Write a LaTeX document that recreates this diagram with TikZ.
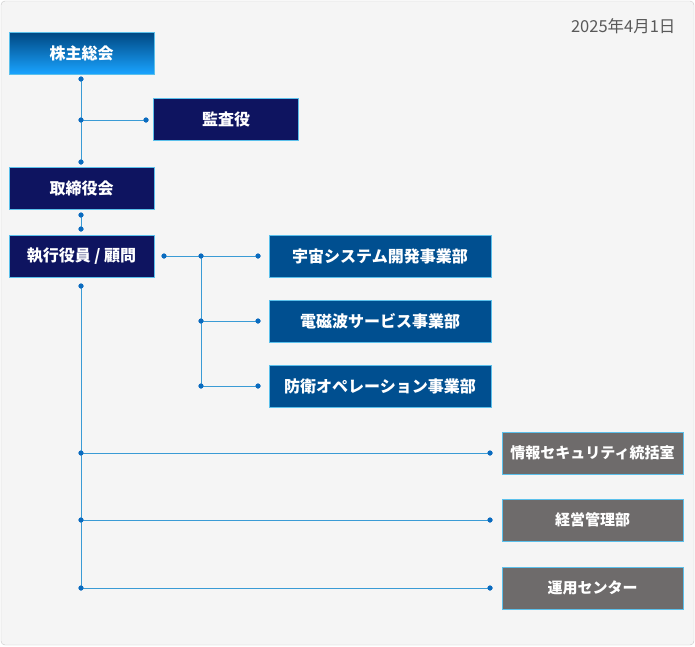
\documentclass[tikz,border=0pt]{standalone}
\usepackage{fontspec}
\setmainfont{Noto Sans CJK JP}
\usepackage{tikz}
\definecolor{navy}{HTML}{0E1460}
\definecolor{deptblue}{HTML}{004F90}
\definecolor{staffgray}{HTML}{6E6B6B}
\definecolor{edgeblue}{HTML}{5BC0EB}
\definecolor{lineblue}{HTML}{3A9BD5}
\definecolor{dotblue}{HTML}{0A6BBF}
\definecolor{bgpanel}{HTML}{F5F5F5}

\begin{document}
\begin{tikzpicture}[x=1pt,y=-1pt,
    box/.style={draw=edgeblue,line width=1pt,inner sep=0pt,outer sep=0pt,minimum height=42pt,
                text=white,font=\fontsize{16}{18}\selectfont\bfseries},
    top node/.style={box,minimum width=145pt,top color=deptblue!90!black,bottom color=cyan!60!blue!90},
    main node/.style={box,minimum width=145pt,fill=navy},
    dept node/.style={box,minimum width=222pt,fill=deptblue},
    staff node/.style={box,minimum width=181pt,fill=staffgray,font=\fontsize{15}{17}\selectfont\bfseries},
    dot/.style={circle,fill=dotblue,inner sep=0pt,minimum size=5pt},
    link/.style={draw=lineblue,line width=1pt}]

  \useasboundingbox (0,0) rectangle (695,646);
  \draw[rounded corners=4pt,draw=black!22,fill=bgpanel] (1,1) rectangle (694,645);

  \node[anchor=east,text=black!65,font=\fontsize{16.5}{18}\selectfont] (date) at (679,26) {2025年4月1日};

  % top of the chart
  \node[top node] (gm) at (81.5,53) {株主総会};
  \node[main node] (audit) at (226,119) {監査役};
  \node[main node] (board) at (81.5,188) {取締役会};
  \node[main node] (exec) at (81.5,256) {執行役員 / 顧問};

  % business units
  \node[dept node] (space) at (380,256) {宇宙システム開発事業部};
  \node[dept node] (emw) at (380,321) {電磁波サービス事業部};
  \node[dept node] (def) at (380,386) {防衛オペレーション事業部};

  % staff units
  \node[staff node] (sec) at (592.5,453) {情報セキュリティ統括室};
  \node[staff node] (mgmt) at (592.5,520) {経営管理部};
  \node[staff node] (ops) at (592.5,588) {運用センター};

  % dots
  \node[dot] (g1) at (81,79) {};
  \node[dot] (g2) at (81,120) {};
  \node[dot] (g3) at (146,120) {};
  \node[dot] (g4) at (81,162) {};
  \node[dot] (b1) at (81,215) {};
  \node[dot] (b2) at (81,229) {};
  \node[dot] (e1) at (164,256) {};
  \node[dot] (e2) at (201,256) {};
  \node[dot] (e3) at (258,256) {};
  \node[dot] (e4) at (201,321) {};
  \node[dot] (e5) at (258,321) {};
  \node[dot] (e6) at (201,386) {};
  \node[dot] (e7) at (258,386) {};
  \node[dot] (s0) at (81,286) {};
  \node[dot] (s1) at (81,453) {};
  \node[dot] (s2) at (490,453) {};
  \node[dot] (s3) at (81,520) {};
  \node[dot] (s4) at (490,520) {};
  \node[dot] (s5) at (81,588) {};
  \node[dot] (s6) at (490,588) {};

  \path[link]
    (g1.center) -- (g4.center)
    (g2.center) -- (g3.center)
    (b1.center) -- (b2.center)
    (e1.center) -- (e3.center)
    (e2.center) -- (e6.center)
    (e4.center) -- (e5.center)
    (e6.center) -- (e7.center)
    (s0.center) -- (s5.center)
    (s1.center) -- (s2.center)
    (s3.center) -- (s4.center)
    (s5.center) -- (s6.center);
  \foreach \d in {g1,g2,g3,g4,b1,b2,e1,e2,e3,e4,e5,e6,e7,s0,s1,s2,s3,s4,s5,s6}
    \node[dot] at (\d) {};
\end{tikzpicture}
\end{document}
